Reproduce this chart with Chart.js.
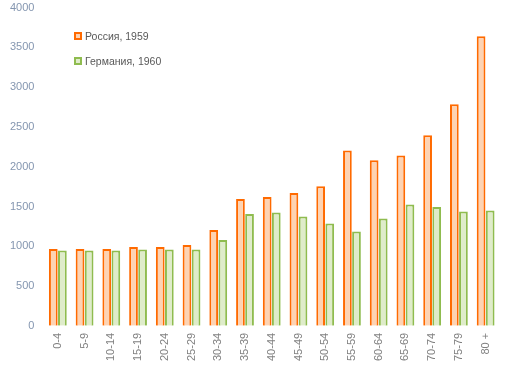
<!DOCTYPE html>
<html>
<head>
<meta charset="utf-8">
<script src="https://cdn.jsdelivr.net/npm/chart.js@4"></script>
<style>
  body { margin: 0; background: #fff; }
  #wrap { position: relative; width: 511px; height: 368px; overflow: hidden; }
  #chart { position: absolute; left: 0; top: -9px; }
  #legend { position: absolute; left: 74px; top: 28px; font: 10.5px "Liberation Sans", sans-serif; color: #595959; }
  #legend div { height: 25px; line-height: 16px; }
  #legend span { display: inline-block; width: 4px; height: 4px; margin-right: 3px; vertical-align: 0px; }
</style>
</head>
<body>
<div id="wrap">
  <canvas id="chart" width="511" height="377"></canvas>
  <div id="legend"></div>
</div>
<script>
var ageGroups = ['0-4', '5-9', '10-14', '15-19', '20-24', '25-29', '30-34', '35-39', '40-44',
                 '45-49', '50-54', '55-59', '60-64', '65-69', '70-74', '75-79', '80 +'];
var russia1959 = [965, 965, 965, 990, 990, 1015, 1205, 1595, 1620, 1670, 1755, 2205, 2080, 2140, 2395, 2785, 3640];
var germany1960 = [947, 947, 947, 960, 960, 960, 1078, 1405, 1425, 1375, 1287, 1186, 1350, 1526, 1493, 1438, 1450];
var seriesNames = ['Россия, 1959', 'Германия, 1960'];

var ctx = document.getElementById('chart').getContext('2d');
var chart = new Chart(ctx, {
    type: 'bar',
    data: {
        labels: ageGroups,
        datasets: [{
            label: seriesNames[0],
            data: russia1959,
            backgroundColor: '#fdd3b3',
            borderColor: '#ff6a00',
            borderWidth: 2,
            borderSkipped: 'bottom'
        }, {
            label: seriesNames[1],
            data: germany1960,
            backgroundColor: '#dfecca',
            borderColor: '#8fbc4f',
            borderWidth: 2,
            borderSkipped: 'bottom'
        }]
    },
    options: {
        responsive: false,
        animation: false,
        events: [],
        datasets: {
            bar: { categoryPercentage: 0.68, barPercentage: 0.96 }
        },
        layout: { padding: { left: 0, right: 12, top: 0, bottom: 0 } },
        scales: {
            x: {
                grid: { display: false, drawTicks: false },
                border: { display: false },
                ticks: {
                    minRotation: 90,
                    maxRotation: 90,
                    color: '#808080',
                    font: { family: 'Liberation Sans', size: 11 },
                    padding: 7
                }
            },
            y: {
                min: 0,
                max: 4000,
                grid: { display: false, drawTicks: false },
                border: { display: false },
                ticks: {
                    stepSize: 500,
                    color: '#8496b0',
                    font: { family: 'Liberation Sans', size: 11 },
                    padding: 10,
                    callback: function (v) { return String(v); }
                }
            }
        },
        plugins: {
            legend: { display: false },
            tooltip: { enabled: false }
        }
    }
});

// legend as text overlay, colours taken from the datasets
var legendBox = document.getElementById('legend');
chart.data.datasets.forEach(function (ds) {
    var row = document.createElement('div');
    var sw = document.createElement('span');
    sw.style.background = ds.backgroundColor;
    sw.style.border = '2px solid ' + ds.borderColor;
    row.appendChild(sw);
    row.appendChild(document.createTextNode(ds.label));
    legendBox.appendChild(row);
});
</script>
</body>
</html>
